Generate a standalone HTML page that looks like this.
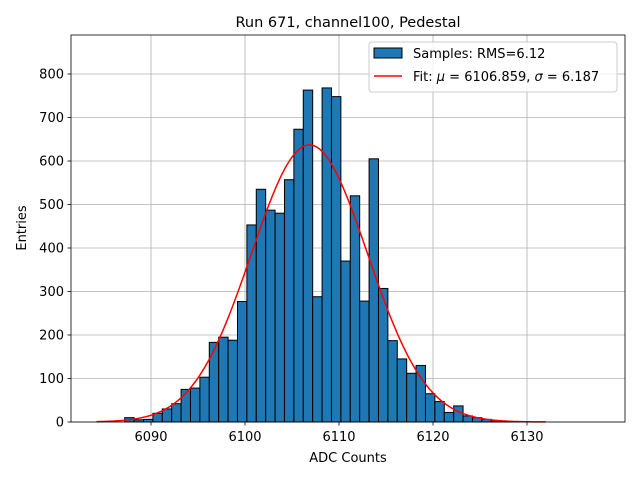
<!DOCTYPE html>
<html><head><meta charset="utf-8"><style>
body{margin:0;background:#fff;font-family:"Liberation Sans","DejaVu Sans",sans-serif;}
</style></head><body>
<svg width="640" height="480" xmlns="http://www.w3.org/2000/svg" font-family="DejaVu Sans, Liberation Sans, sans-serif">
<g id="grid"></g>
<g id="bars"></g>
<path id="fit" fill="none" stroke="#ff0000" stroke-width="1.5"/>
<rect x="71" y="35" width="554" height="387" fill="none" stroke="#000" stroke-width="0.8"/>
<g id="ticks" font-size="13"></g>
<text x="348" y="27" text-anchor="middle" font-size="14.5">Run 671, channel100, Pedestal</text>
<text x="348" y="462" text-anchor="middle" font-size="13">ADC Counts</text>
<text x="26" y="228" text-anchor="middle" font-size="13" transform="rotate(-90 26 228)">Entries</text>
<g>
<rect x="369" y="42" width="248" height="50" rx="3" fill="#fff" fill-opacity="0.8" stroke="#ccc"/>
<rect x="374" y="48" width="28" height="10" fill="#1f77b4" stroke="#000"/>
<text x="413" y="58" font-size="13">Samples: RMS=6.12</text>
<line x1="374" y1="76" x2="402" y2="76" stroke="#ff0000" stroke-width="1.5"/>
<text x="413" y="81" font-size="13">Fit: <tspan font-style="italic">μ</tspan> = 6106.859, <tspan font-style="italic">σ</tspan> = 6.187</text>
</g>
</svg>
<script>
const binStart = 6084.2;
const binWidth = 1.0;
const counts = [0,0,0,10,5,6,20,30,42,75,78,103,183,195,188,277,453,535,487,480,557,673,763,288,768,748,370,520,278,605,307,187,145,112,130,65,47,22,37,14,10,6,3,2,1,0,0,0];
const xTicks = [6090,6100,6110,6120,6130];
const yTicks = [0,100,200,300,400,500,600,700,800];
const fitMu = 6106.859, fitSigma = 6.187, fitAmp = 637, fitMin = 6084.2, fitMax = 6132;
const X = v => 151 + (v - 6090) * 9.4;
const Y = v => 422 - v * 0.435;
const NS = "http://www.w3.org/2000/svg";
const grid = document.getElementById('grid'), ticks = document.getElementById('ticks'), bars = document.getElementById('bars');
function mk(tag, attrs, parent){const e=document.createElementNS(NS,tag);for(const k in attrs)e.setAttribute(k,attrs[k]);parent.appendChild(e);return e;}
xTicks.forEach(t=>{
  const g=mk('line',{x1:X(t),x2:X(t),y1:35,y2:422,stroke:'#b0b0b0','stroke-width':0.8},grid);
  
  
  mk('line',{x1:X(t),x2:X(t),y1:422,y2:425.5,stroke:'#000','stroke-width':0.8},ticks);
  const l=mk('text',{x:X(t),y:441,'text-anchor':'middle'},ticks);l.textContent=t;
  
  
});
yTicks.forEach(t=>{
  const g=mk('line',{x1:71,x2:625,y1:Y(t),y2:Y(t),stroke:'#b0b0b0','stroke-width':0.8},grid);
  
  
  mk('line',{x1:67.5,x2:71,y1:Y(t),y2:Y(t),stroke:'#000','stroke-width':0.8},ticks);
  const l=mk('text',{x:64,y:Y(t)+4.5,'text-anchor':'end'},ticks);l.textContent=t;
  
  
});
counts.forEach((c,i)=>{
  if(c<=0)return;
  const x0=X(binStart+i*binWidth), x1=X(binStart+(i+1)*binWidth);
  const r=mk('rect',{x:x0,y:Y(c),width:x1-x0,height:Y(0)-Y(c),fill:'#1f77b4',stroke:'#000','stroke-width':1},bars);
  
  
});
let d='';
for(let i=0;i<=300;i++){const v=fitMin+(fitMax-fitMin)*i/300;const y=fitAmp*Math.exp(-0.5*((v-fitMu)/fitSigma)**2);d+=(i?'L':'M')+X(v).toFixed(2)+','+Y(y).toFixed(2);}
document.getElementById('fit').setAttribute('d',d);
</script>
</body></html>
